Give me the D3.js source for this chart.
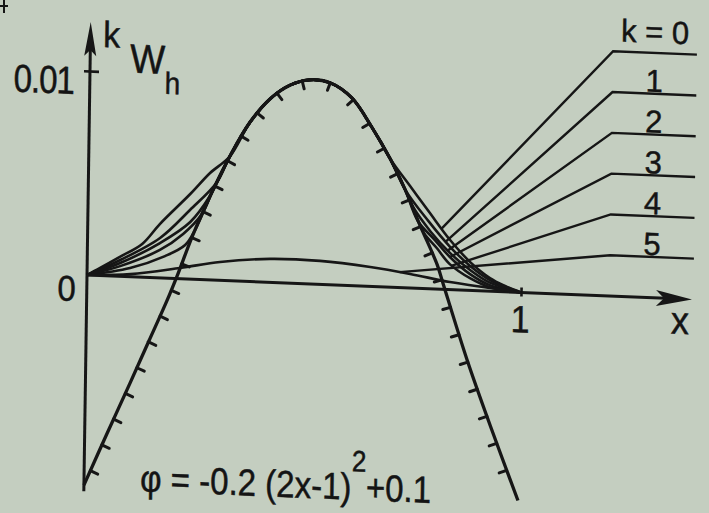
<!DOCTYPE html>
<html>
<head>
<meta charset="utf-8">
<script src="https://cdn.jsdelivr.net/npm/d3@7/dist/d3.min.js"></script>
<style>
  html, body { margin: 0; padding: 0; background: #c4cec0; }
  svg { display: block; }
  text { font-family: "Liberation Sans", Arial, Helvetica, sans-serif; fill: #141414; stroke: #141414; stroke-width: 0.45px; }
</style>
</head>
<body>
<svg id="fig" width="709" height="513"></svg>
<script>
// Obstacle phi(x), hatched on its lower side
const obstacle = [
  [0.000, -0.0103], [0.050, -0.0078], [0.103, -0.0052], [0.145, -0.0031], [0.185, -0.0011],
  [0.207, 0.0001], [0.243, 0.0022], [0.287, 0.0044], [0.325, 0.0061], [0.370, 0.0078],
  [0.416, 0.0090], [0.461, 0.0097], [0.507, 0.0100], [0.553, 0.0099], [0.604, 0.0092],
  [0.651, 0.0078], [0.694, 0.0063], [0.730, 0.0048], [0.765, 0.0031], [0.806, 0.0012],
  [0.820, 0.0003], [0.878, -0.0034], [0.934, -0.0066], [1.000, -0.0102]
];

// Discrete solutions W_h^k, k = 0..5
const w0 = [
  [0, 0], [0.030, 0.00037], [0.075, 0.00095], [0.126, 0.00163], [0.166, 0.00264],
  [0.235, 0.00417], [0.280, 0.00524], [0.325, 0.0061], [0.370, 0.0078], [0.416, 0.0090],
  [0.461, 0.0097], [0.507, 0.0100], [0.553, 0.0099], [0.604, 0.0092], [0.651, 0.0078],
  [0.694, 0.0063], [0.741, 0.0050], [0.788, 0.0037], [0.835, 0.00243], [0.882, 0.00139],
  [0.928, 0.00065], [0.963, 0.00029], [1, 0]
];
const w1 = [
  [0, 0], [0.076, 0.0008], [0.167, 0.00196], [0.235, 0.00339], [0.296, 0.0048],
  [0.325, 0.0061], [0.370, 0.0078], [0.416, 0.0090], [0.461, 0.0097], [0.507, 0.0100],
  [0.553, 0.0099], [0.604, 0.0092], [0.651, 0.0078], [0.694, 0.0063], [0.730, 0.0048],
  [0.785, 0.0033], [0.835, 0.0021], [0.882, 0.0012], [0.928, 0.00055], [1, 0]
];
const w2 = [
  [0, 0], [0.076, 0.00065], [0.167, 0.00171], [0.236, 0.0028], [0.280, 0.0041],
  [0.325, 0.0061], [0.370, 0.0078], [0.416, 0.0090], [0.461, 0.0097], [0.507, 0.0100],
  [0.553, 0.0099], [0.604, 0.0092], [0.651, 0.0078], [0.694, 0.0063], [0.730, 0.0048],
  [0.748, 0.0040], [0.790, 0.0028], [0.835, 0.0018], [0.882, 0.0010], [0.928, 0.00042], [1, 0]
];
const w3 = [
  [0, 0], [0.076, 0.0005], [0.167, 0.00137], [0.220, 0.0022], [0.262, 0.0032],
  [0.287, 0.0044], [0.325, 0.0061], [0.370, 0.0078], [0.416, 0.0090], [0.461, 0.0097],
  [0.507, 0.0100], [0.553, 0.0099], [0.604, 0.0092], [0.651, 0.0078], [0.694, 0.0063],
  [0.730, 0.0048], [0.760, 0.0033], [0.800, 0.0024], [0.835, 0.0016], [0.882, 0.0008],
  [0.928, 0.0003], [1, 0]
];
const w4 = [
  [0, 0], [0.099, 0.00043], [0.179, 0.00108], [0.225, 0.00166], [0.247, 0.0024],
  [0.287, 0.0044], [0.325, 0.0061], [0.370, 0.0078], [0.416, 0.0090], [0.461, 0.0097],
  [0.507, 0.0100], [0.553, 0.0099], [0.604, 0.0092], [0.651, 0.0078], [0.694, 0.0063],
  [0.730, 0.0048], [0.765, 0.0031], [0.775, 0.0027], [0.805, 0.0020], [0.835, 0.00125],
  [0.882, 0.0006], [0.928, 0.0002], [1, 0]
];
const w5 = [
  [0, 0], [0.100, 0.00013], [0.214, 0.00053], [0.306, 0.0009], [0.421, 0.00115],
  [0.536, 0.00115], [0.652, 0.00095], [0.744, 0.00069], [0.836, 0.00037], [0.929, 0.00016], [1, 0]
];
const solutions = [w0, w1, w2, w3, w4, w5];

// Callouts: label, x where the leader touches its curve, height of the label shelf
const curveLabels = ["k = 0", "1", "2", "3", "4", "5"];
const leaderAt = [0.815, 0.825, 0.830, 0.835, 0.840, 0.720];
const leaderLevel = [0.012, 0.010, 0.008, 0.006, 0.004, 0.002];

const xTickValues = [1];
const xTickLabels = ["1"];
const yTickValues = [0, 0.01];
const yTickLabels = ["0", "0.01"];

const ink = "#161616";
const svg = d3.select("#fig");
svg.append("rect").attr("width", 709).attr("height", 513).attr("fill", "#c4cec0");

// small cross left over at the sheet corner
svg.append("path").attr("d", "M4,0 V13 M0,6 H8")
  .attr("stroke", ink).attr("stroke-width", 2).attr("fill", "none");

const x = d3.scaleLinear().domain([0, 1]).range([0, 434]);
const y = d3.scaleLinear().domain([0, 0.01]).range([0, -204]);

// The printed frame is slightly askew; shear the whole drawing to follow it
const plot = svg.append("g").attr("transform", "matrix(1,0.0403,-0.0147,1,87,275)");

const line = d3.line()
  .x(d => x(d[0]))
  .y(d => y(d[1]))
  .curve(d3.curveCatmullRom.alpha(0.5));

function valueAt(pts, u) {
  for (let i = 1; i < pts.length; i++) {
    if (u <= pts[i][0]) {
      const [x0, y0] = pts[i - 1], [x1, y1] = pts[i];
      return y0 + (y1 - y0) * (u - x0) / (x1 - x0);
    }
  }
  return pts[pts.length - 1][1];
}

// Text with the tall, narrow look of the printed lettering
function label(parent, px, py, size, str, anchor = "start", sy = 1.14) {
  return parent.append("text")
    .attr("transform", `translate(${px},${py}) scale(1,${sy})`)
    .attr("font-size", size).attr("text-anchor", anchor).text(str);
}

// Axes: arrows along x = 0 and w = 0
const xEnd = 1.394, yTop = 0.0124, yBottom = -0.0106;
plot.append("line")
  .attr("x1", x(0)).attr("y1", y(0)).attr("x2", x(xEnd) - 20).attr("y2", y(0))
  .attr("stroke", ink).attr("stroke-width", 3);
plot.append("path")
  .attr("d", `M${x(xEnd)},${y(0)} L${x(xEnd) - 36},${y(0) - 8} L${x(xEnd) - 28},${y(0)} L${x(xEnd) - 36},${y(0) + 8} Z`)
  .attr("fill", ink);
plot.append("line")
  .attr("x1", x(0)).attr("y1", y(yBottom)).attr("x2", x(0)).attr("y2", y(yTop) + 20)
  .attr("stroke", ink).attr("stroke-width", 3);
plot.append("path")
  .attr("d", `M${x(0)},${y(yTop)} L${x(0) - 6},${y(yTop) + 34} L${x(0)},${y(yTop) + 28} L${x(0) + 6},${y(yTop) + 34} Z`)
  .attr("fill", ink);

const gx = plot.append("g")
  .call(d3.axisBottom(x).tickValues(xTickValues).tickFormat((d, i) => xTickLabels[i]).tickSize(5).tickSizeOuter(0))
  .attr("font-family", null).attr("font-size", null);
gx.select(".domain").remove();
gx.selectAll(".tick line").attr("y1", -5).attr("y2", 4).attr("stroke", ink).attr("stroke-width", 2.6);
gx.selectAll(".tick text")
  .attr("x", 0).attr("y", 0).attr("dy", null)
  .attr("transform", "translate(-1,40) scale(1,1.12)")
  .attr("fill", "#141414").attr("font-size", 34);

const gy = plot.append("g")
  .call(d3.axisLeft(y).tickValues(yTickValues).tickFormat((d, i) => yTickLabels[i]).tickSize(6).tickSizeOuter(0))
  .attr("font-family", null).attr("font-size", null);
gy.select(".domain").remove();
gy.selectAll(".tick line")
  .attr("x1", 9).attr("x2", -6).attr("stroke", ink).attr("stroke-width", 2.6)
  .attr("display", d => d === 0 ? "none" : null);
gy.selectAll(".tick text")
  .attr("x", 0).attr("y", 0).attr("dy", null)
  .attr("transform", d => d === 0 ? "translate(-12,26) scale(1,1.08)" : "translate(-16,23) scale(1,1.18)")
  .attr("fill", "#141414").attr("font-size", 33).attr("letter-spacing", -1);

// Axis names
label(plot, x(1.367), 35, 36, "x", "middle", 1.08);
label(plot, x(0.029), y(0.0112), 34, "k", "start", 1.08);
const wLabel = label(plot, x(0.092), y(0.0100), 37, "", "start", 1.1);
wLabel.append("tspan").text("W");
wLabel.append("tspan").attr("dy", 18).attr("font-size", 28).text("h");

// Obstacle and its hatching
const obsPath = plot.append("path").datum(obstacle)
  .attr("d", line).attr("fill", "none")
  .attr("stroke", ink).attr("stroke-width", 3.3).attr("stroke-linejoin", "round");
const node = obsPath.node();
const total = node.getTotalLength();
const hatch = [];
for (let s = 16; s < total - 4; s += 28.5) {
  const p = node.getPointAtLength(s);
  const a = node.getPointAtLength(Math.max(0, s - 1.5));
  const b = node.getPointAtLength(Math.min(total, s + 1.5));
  const dx = b.x - a.x, dy = b.y - a.y, n = Math.hypot(dx, dy) || 1;
  hatch.push([p.x, p.y, p.x - dy / n * 8, p.y + dx / n * 8]);
}
plot.append("g").selectAll("line").data(hatch).join("line")
  .attr("x1", d => d[0]).attr("y1", d => d[1]).attr("x2", d => d[2]).attr("y2", d => d[3])
  .attr("stroke", ink).attr("stroke-width", 3).attr("stroke-linecap", "round");

// Solution curves
plot.append("g").selectAll("path").data(solutions).join("path")
  .attr("d", line).attr("fill", "none")
  .attr("stroke", ink).attr("stroke-width", 2.6).attr("stroke-linejoin", "round");

// Leaders and their labels
const shelfStart = 1.204, shelfEnd = 1.397;
const leaders = solutions.map((pts, k) => [
  [leaderAt[k], valueAt(pts, leaderAt[k])],
  [shelfStart, leaderLevel[k]],
  [shelfEnd, leaderLevel[k]]
]);
plot.append("g").selectAll("path").data(leaders).join("path")
  .attr("d", d3.line().x(d => x(d[0])).y(d => y(d[1])))
  .attr("fill", "none").attr("stroke", ink).attr("stroke-width", 2.4);
const legend = plot.append("g");
curveLabels.forEach((t, k) => {
  label(legend, x(1.30), y(leaderLevel[k]) - (k === 0 ? 10 : 2), 31, t, "middle", 1.02);
});

// Obstacle formula
const f = label(plot, x(0.1295), y(-0.01049), 33, "", "start", 1.14);
f.append("tspan").text("\u03c6 = -0.2 (2x-1)");
f.append("tspan").attr("dy", -25).attr("font-size", 26).text("2");
f.append("tspan").attr("dy", 25).text("+0.1");
</script>
</body>
</html>
